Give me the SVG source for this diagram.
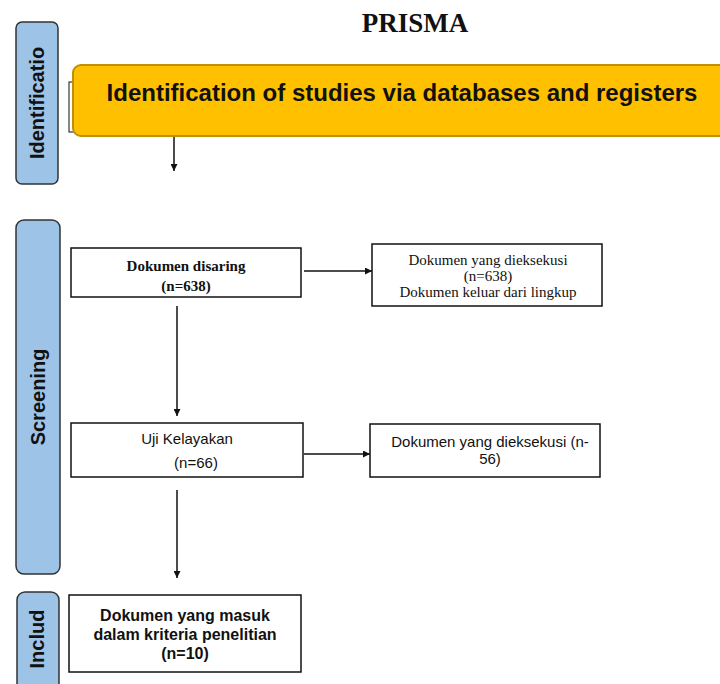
<svg xmlns="http://www.w3.org/2000/svg" width="720" height="684" viewBox="0 0 720 684">
<style>
.side{fill:#9DC3E6;stroke:#333;stroke-width:1.5}
.sidet{font-family:"Liberation Sans",Arial,sans-serif;font-weight:bold;font-size:20px;fill:#111;text-anchor:middle}
.box{fill:#fff;stroke:#111;stroke-width:1.5}
.tb{font-family:"Liberation Serif","Times New Roman",serif;font-weight:bold;font-size:15px;fill:#111;text-anchor:middle}
.tr{font-family:"Liberation Serif","Times New Roman",serif;font-size:15px;fill:#111;text-anchor:middle}
.as{font-family:"Liberation Sans",Arial,sans-serif;font-size:15px;fill:#111;text-anchor:middle}
.asb{font-family:"Liberation Sans",Arial,sans-serif;font-weight:bold;font-size:16px;fill:#111;text-anchor:middle}
.edge{stroke:#111;stroke-width:1.5;fill:none;marker-end:url(#ah)}
</style>
<defs>
<marker id="ah" viewBox="0 0 10 10" refX="10" refY="5" markerWidth="7" markerHeight="7" markerUnits="userSpaceOnUse" orient="auto">
<path d="M0,0 L10,5 L0,10 z" fill="#111"/>
</marker>
</defs>
<rect width="720" height="684" fill="#fff"/>
<text x="415" y="32" font-family="'Liberation Serif','Times New Roman',serif" font-weight="bold" font-size="27" text-anchor="middle" fill="#111">PRISMA</text>

<g id="stage-identification">
<rect class="side" x="16" y="22" width="42" height="162" rx="6"/>
<text class="sidet" transform="translate(44,103) rotate(-90)" font-size="21">Identificatio</text>
</g>
<g id="stage-screening">
<rect class="side" x="16" y="220" width="44" height="354" rx="8"/>
<text class="sidet" transform="translate(45,397) rotate(-90)" font-size="22">Screening</text>
</g>
<g id="stage-included">
<rect class="side" x="17" y="592" width="42" height="110" rx="8"/>
<text class="sidet" transform="translate(44,639) rotate(-90)">Includ</text>
</g>

<g id="header">
<rect x="69" y="82" width="30" height="50" fill="#fff" stroke="#111" stroke-width="1"/>
<rect x="73" y="65" width="680" height="71" rx="8" fill="#FFC000" stroke="#C09000" stroke-width="2"/>
<text x="402" y="101" font-family="'Liberation Sans',Arial,sans-serif" font-weight="bold" font-size="24" text-anchor="middle" fill="#111">Identification of studies via databases and registers</text>
</g>

<g id="screened">
<rect class="box" x="71" y="248" width="230" height="49"/>
<text class="tb" x="186" y="271">Dokumen disaring</text>
<text class="tb" x="186" y="291">(n=638)</text>
</g>
<g id="excluded1">
<rect class="box" x="372" y="244" width="230" height="62"/>
<text class="tr" x="488" y="265">Dokumen yang dieksekusi</text>
<text class="tr" x="488" y="281">(n=638)</text>
<text class="tr" x="488" y="297">Dokumen keluar dari lingkup</text>
</g>
<g id="eligibility">
<rect class="box" x="71" y="423" width="232" height="54"/>
<text class="as" x="187" y="444">Uji Kelayakan</text>
<text class="as" x="196" y="468">(n=66)</text>
</g>
<g id="excluded2">
<rect class="box" x="370" y="424" width="230" height="53"/>
<text class="as" x="490" y="447">Dokumen yang dieksekusi (n-</text>
<text class="as" x="490" y="464">56)</text>
</g>
<g id="included">
<rect class="box" x="69" y="595" width="232" height="77"/>
<text class="asb" x="185" y="621">Dokumen yang masuk</text>
<text class="asb" x="185" y="640">dalam kriteria penelitian</text>
<text class="asb" x="185" y="659">(n=10)</text>
</g>

<g id="connectors">
<line class="edge" x1="174" y1="137" x2="174" y2="171"/>
<line class="edge" x1="304" y1="271" x2="372" y2="271"/>
<line class="edge" x1="177" y1="306" x2="177" y2="416"/>
<line class="edge" x1="304" y1="454" x2="370" y2="454"/>
<line class="edge" x1="177" y1="490" x2="177" y2="578"/>
</g>
</svg>
